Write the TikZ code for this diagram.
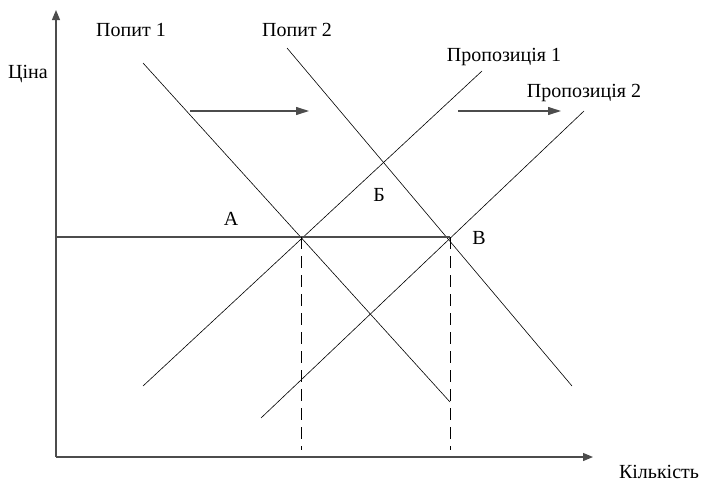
\documentclass[tikz,border=0pt]{standalone}
\usepackage{fontspec}
\setmainfont{Liberation Serif}
\usetikzlibrary{arrows.meta}
\begin{document}
\begin{tikzpicture}[x=1pt,y=-1pt,
  axis/.style={draw=black!70, line width=1.2pt, -{Triangle[length=10pt,width=8pt]}},
  curve/.style={draw=black, line width=0.6pt},
  shiftarrow/.style={draw=black!70, line width=1.1pt, -{Triangle[length=13pt,width=8pt]}},
  level/.style={draw=black!70, line width=1.1pt},
  guide/.style={draw=black, line width=0.7pt, dash pattern=on 12pt off 7pt},
  lbl/.style={font=\fontsize{20}{22}\selectfont, inner sep=0pt, text=black}]
\useasboundingbox (0,0) rectangle (705,482);
% axes
\coordinate (O) at (56,457);
\coordinate (Ytop) at (56,10);
\coordinate (Xend) at (593,457);
\draw[axis] (O) -- (Ytop);
\draw[axis] (O) -- (Xend);
% curves
\coordinate (d1a) at (143,63);  \coordinate (d1b) at (450,402);
\coordinate (d2a) at (287,48);  \coordinate (d2b) at (572,386);
\coordinate (s1a) at (143,386); \coordinate (s1b) at (482,71);
\coordinate (s2a) at (261,418); \coordinate (s2b) at (584,111);
\draw[curve] (d1a) -- (d1b);
\draw[curve] (d2a) -- (d2b);
\draw[curve] (s1a) -- (s1b);
\draw[curve] (s2a) -- (s2b);
% price level and guides
\coordinate (Lp) at (56,237);
\coordinate (A) at (301,237);
\coordinate (B) at (450,237);
\coordinate (Ab) at (301,450);
\coordinate (Bb) at (450,450);
\draw[level] (Lp) -- (B);
\draw[guide] (A) -- (Ab);
\draw[guide] (B) -- (Bb);
% shift arrows
\coordinate (a1s) at (190,111); \coordinate (a1e) at (309,111);
\coordinate (a2s) at (458,111); \coordinate (a2e) at (561,111);
\draw[shiftarrow] (a1s) -- (a1e);
\draw[shiftarrow] (a2s) -- (a2e);
% labels
\node[lbl] (tD1) at (131,30) {Попит 1};
\node[lbl] (tD2) at (297,30) {Попит 2};
\node[lbl] (tS1) at (504,57) {Пропозиція 1};
\node[lbl] (tS2) at (584,93) {Пропозиція 2};
\node[lbl] (tP) at (28,74) {Ціна};
\node[lbl] (tQ) at (659,472) {Кількість};
\node[lbl] (tA) at (231,219) {А};
\node[lbl] (tB) at (379,195) {Б};
\node[lbl] (tV) at (479,238) {В};
\end{tikzpicture}
\end{document}
